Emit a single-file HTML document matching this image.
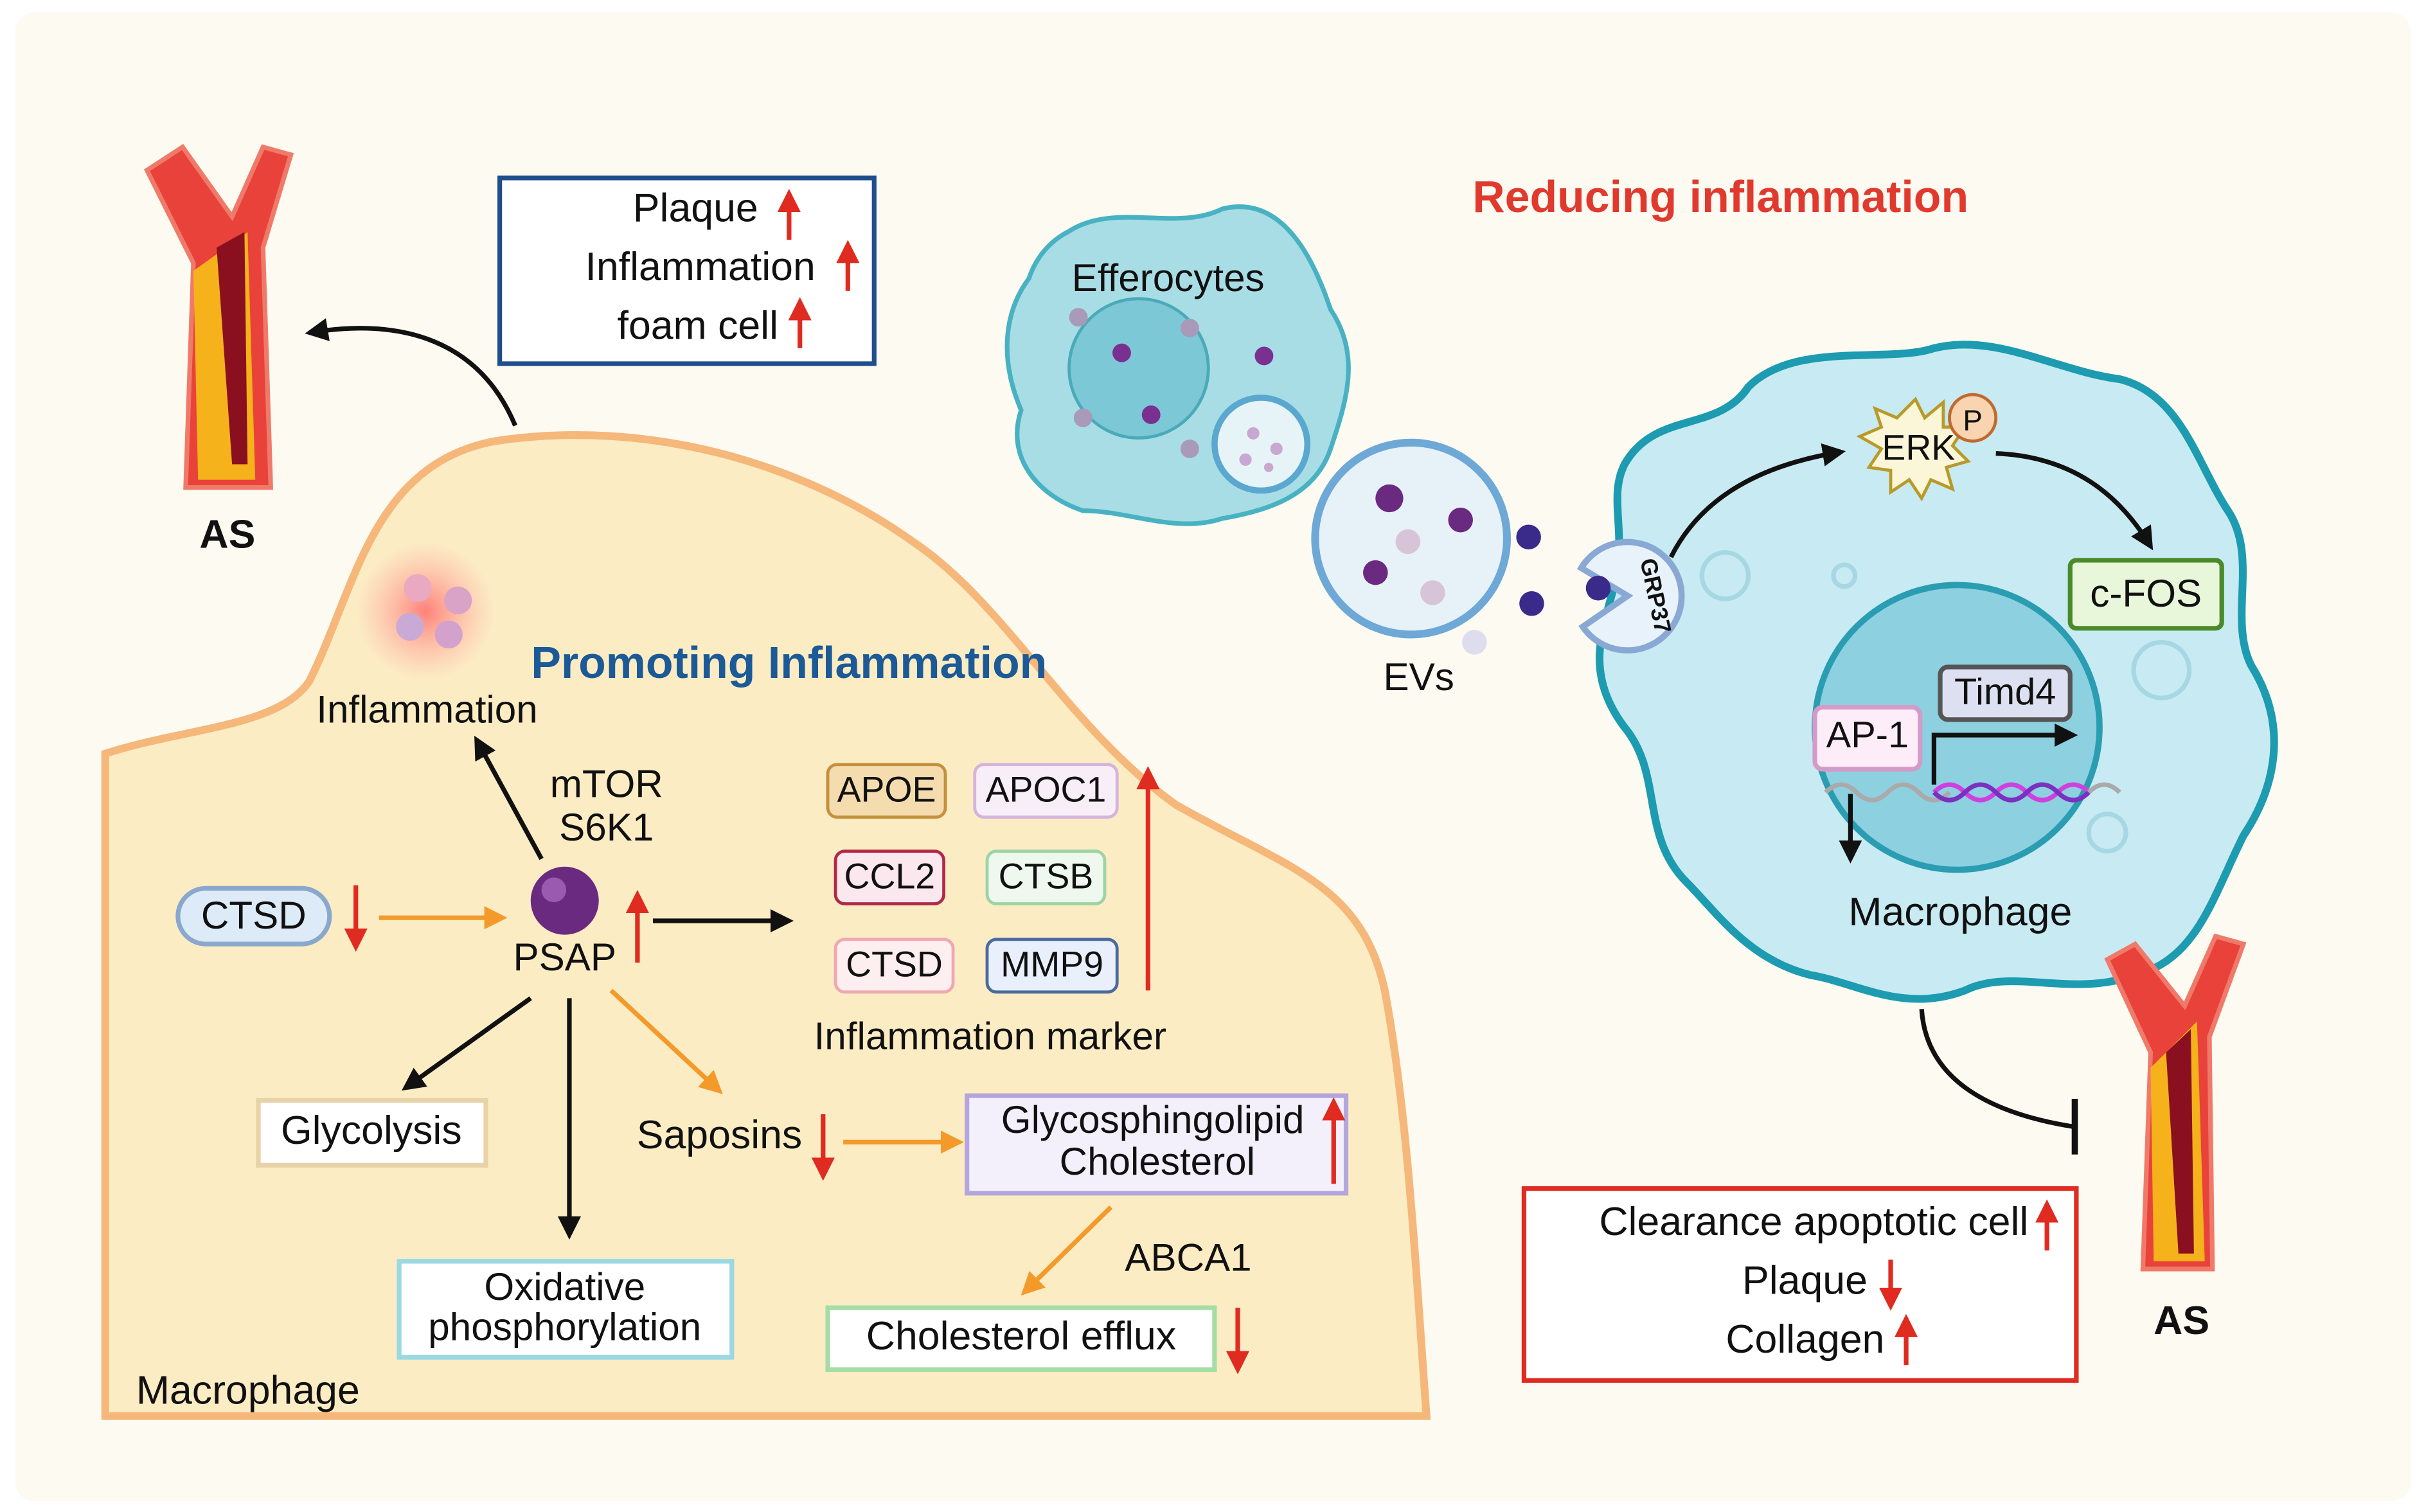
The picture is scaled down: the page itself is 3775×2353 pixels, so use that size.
<!DOCTYPE html>
<html><head><meta charset="utf-8"><style>
html,body{margin:0;padding:0;background:#fff;}
svg{display:block;}
text{font-family:"Liberation Sans",sans-serif;fill:#111;}
</style></head><body>
<svg width="3775" height="2353" viewBox="0 0 1568 977" preserveAspectRatio="none" xmlns="http://www.w3.org/2000/svg">
<defs>
<marker id="ab" viewBox="0 0 10 10" refX="8" refY="5" markerWidth="5" markerHeight="5" orient="auto"><path d="M0,0L10,5L0,10z" fill="#111"/></marker>
<marker id="ao" viewBox="0 0 10 10" refX="8" refY="5" markerWidth="5" markerHeight="5" orient="auto"><path d="M0,0L10,5L0,10z" fill="#f39a2a"/></marker>
<marker id="ar" viewBox="0 0 10 10" refX="8" refY="5" markerWidth="5" markerHeight="5" orient="auto"><path d="M0,0L10,5L0,10z" fill="#e02b20"/></marker>
<radialGradient id="glow"><stop offset="0" stop-color="#f66" stop-opacity=".8"/><stop offset="1" stop-color="#f99" stop-opacity="0"/></radialGradient>
</defs>
<rect x="10" y="8" width="1548" height="962" rx="12" fill="#fdfaf1"/>
<path d="M68,487 C120,470 180,470 200,440 C230,380 240,300 320,285 C420,270 520,300 590,350 C650,390 690,470 760,520 C830,560 880,570 895,640 C910,720 915,820 922,915 L68,915 Z" fill="#fcecc4" stroke="#f5b77a" stroke-width="5"/>
<circle cx="275" cy="395" r="45" fill="url(#glow)"/>
<circle cx="270" cy="380" r="9" fill="#e9a9c0"/><circle cx="296" cy="388" r="9" fill="#d9a3c8"/><circle cx="265" cy="405" r="9" fill="#c9a9d6"/><circle cx="290" cy="410" r="9" fill="#d3a2cc"/>
<path d="M95,110 L125,170 L120,315 L175,315 L170,160 L188,100 L170,95 L150,140 L118,95 Z" fill="#e8423a" stroke="#f07a6a" stroke-width="3"/>
<path d="M125,175 L128,310 L165,310 L160,150 Z" fill="#f5b21a"/>
<path d="M140,160 L150,300 L160,300 L158,150 Z" fill="#8a1020"/>
<text x="147" y="354" font-size="26" font-weight="bold" text-anchor="middle">AS</text>
<path d="M333,275 C310,220 260,205 200,215" fill="none" stroke="#111" stroke-width="3" marker-end="url(#ab)"/>
<rect x="323" y="115" width="242" height="120" fill="#fff" stroke="#1f4e8c" stroke-width="3"/>
<g font-size="26" text-anchor="end"><text x="490" y="143">Plaque</text><text x="527" y="181">Inflammation</text><text x="503" y="219">foam cell</text></g>
<g stroke="#e02b20" stroke-width="3" marker-end="url(#ar)"><line x1="510" y1="155" x2="510" y2="125"/><line x1="548" y1="188" x2="548" y2="158"/><line x1="517" y1="225" x2="517" y2="195"/></g>
<text x="1112" y="137" font-size="29" font-weight="bold" text-anchor="middle" style="fill:#e03a2f">Reducing inflammation</text>
<text x="510" y="438" font-size="29" font-weight="bold" text-anchor="middle" style="fill:#1b5a96">Promoting Inflammation</text>
<text x="276" y="467" font-size="25" text-anchor="middle">Inflammation</text>
<text x="392" y="515" font-size="25" text-anchor="middle">mTOR</text><text x="392" y="543" font-size="25" text-anchor="middle">S6K1</text>
<line x1="350" y1="555" x2="308" y2="478" stroke="#111" stroke-width="3" marker-end="url(#ab)"/>
<rect x="115" y="574" width="98" height="36" rx="18" fill="#dcebf7" stroke="#8aa8cc" stroke-width="3"/>
<text x="164" y="600" font-size="25" text-anchor="middle">CTSD</text>
<line x1="230" y1="572" x2="230" y2="612" stroke="#e02b20" stroke-width="3" marker-end="url(#ar)"/>
<line x1="245" y1="593" x2="325" y2="593" stroke="#f39a2a" stroke-width="3" marker-end="url(#ao)"/>
<circle cx="365" cy="582" r="22" fill="#6a2a80"/><circle cx="358" cy="575" r="8" fill="#9a5ab0"/>
<text x="365" y="627" font-size="25" text-anchor="middle">PSAP</text>
<line x1="412" y1="622" x2="412" y2="578" stroke="#e02b20" stroke-width="3" marker-end="url(#ar)"/>
<line x1="422" y1="595" x2="510" y2="595" stroke="#111" stroke-width="3" marker-end="url(#ab)"/>
<g font-size="23" text-anchor="middle">
<rect x="535" y="494" width="76" height="34" rx="6" fill="#f4dcae" stroke="#c5903c" stroke-width="2"/><text x="573" y="518">APOE</text>
<rect x="630" y="494" width="92" height="34" rx="6" fill="#f8eef8" stroke="#d4b4dc" stroke-width="2"/><text x="676" y="518">APOC1</text>
<rect x="540" y="550" width="70" height="34" rx="6" fill="#fbe7ee" stroke="#b02a48" stroke-width="2"/><text x="575" y="574">CCL2</text>
<rect x="638" y="550" width="76" height="34" rx="6" fill="#eef8ee" stroke="#9cd4a4" stroke-width="2"/><text x="676" y="574">CTSB</text>
<rect x="540" y="607" width="76" height="34" rx="6" fill="#fdeef0" stroke="#f0a8b0" stroke-width="2"/><text x="578" y="631">CTSD</text>
<rect x="638" y="607" width="84" height="34" rx="6" fill="#eaf0fb" stroke="#4a6aa0" stroke-width="2"/><text x="680" y="631">MMP9</text>
</g>
<line x1="742" y1="640" x2="742" y2="498" stroke="#e02b20" stroke-width="3" marker-end="url(#ar)"/>
<text x="640" y="678" font-size="25" text-anchor="middle">Inflammation marker</text>
<line x1="343" y1="645" x2="262" y2="703" stroke="#111" stroke-width="3" marker-end="url(#ab)"/>
<line x1="368" y1="645" x2="368" y2="798" stroke="#111" stroke-width="3" marker-end="url(#ab)"/>
<line x1="395" y1="640" x2="465" y2="705" stroke="#f39a2a" stroke-width="3" marker-end="url(#ao)"/>
<rect x="167" y="711" width="147" height="42" fill="#fff" stroke="#e8d2a8" stroke-width="3"/><text x="240" y="739" font-size="26" text-anchor="middle">Glycolysis</text>
<rect x="258" y="815" width="215" height="62" fill="#fff" stroke="#9ad8e4" stroke-width="3"/>
<text x="365" y="840" font-size="25" text-anchor="middle">Oxidative</text><text x="365" y="866" font-size="25" text-anchor="middle">phosphorylation</text>
<text x="465" y="742" font-size="26" text-anchor="middle">Saposins</text>
<line x1="532" y1="720" x2="532" y2="760" stroke="#e02b20" stroke-width="3" marker-end="url(#ar)"/>
<line x1="545" y1="738" x2="620" y2="738" stroke="#f39a2a" stroke-width="3" marker-end="url(#ao)"/>
<rect x="625" y="708" width="245" height="63" fill="#f3f0fb" stroke="#b4a6dc" stroke-width="3"/>
<text x="745" y="732" font-size="25" text-anchor="middle">Glycosphingolipid</text><text x="748" y="759" font-size="25" text-anchor="middle">Cholesterol</text>
<line x1="862" y1="765" x2="862" y2="712" stroke="#e02b20" stroke-width="3" marker-end="url(#ar)"/>
<line x1="718" y1="780" x2="662" y2="835" stroke="#f39a2a" stroke-width="3" marker-end="url(#ao)"/>
<text x="768" y="821" font-size="25" text-anchor="middle">ABCA1</text>
<rect x="535" y="845" width="250" height="40" fill="#fff" stroke="#a6dca6" stroke-width="3"/>
<text x="660" y="872" font-size="26" text-anchor="middle">Cholesterol efflux</text>
<line x1="800" y1="845" x2="800" y2="885" stroke="#e02b20" stroke-width="3" marker-end="url(#ar)"/>
<text x="88" y="907" font-size="26">Macrophage</text>
<path d="M690,150 C720,130 760,150 790,135 C830,125 850,170 860,200 C880,230 870,260 860,290 C850,320 820,330 790,335 C760,345 730,330 700,330 C670,320 650,295 660,265 C645,230 650,200 665,180 C670,165 680,155 690,150Z" fill="#a9dde5" stroke="#49b2c2" stroke-width="3"/>
<circle cx="736" cy="238" r="45" fill="#7cc8d6" stroke="#4aaab8" stroke-width="2"/>
<g fill="#7a3090"><circle cx="725" cy="228" r="6"/><circle cx="744" cy="268" r="6"/><circle cx="817" cy="230" r="6"/></g>
<g fill="#a89ab8"><circle cx="697" cy="205" r="6"/><circle cx="769" cy="212" r="6"/><circle cx="700" cy="270" r="6"/><circle cx="769" cy="290" r="6"/></g>
<circle cx="815" cy="287" r="30" fill="#e6f4f8" stroke="#5aa8d0" stroke-width="4"/>
<g fill="#c8a8d0"><circle cx="810" cy="280" r="4"/><circle cx="825" cy="290" r="4"/><circle cx="805" cy="297" r="4"/><circle cx="820" cy="302" r="3"/></g>
<text x="755" y="188" font-size="25" text-anchor="middle">Efferocytes</text>
<circle cx="912" cy="348" r="62" fill="#e6f1f8" stroke="#6ea8d6" stroke-width="5"/>
<g fill="#6a2a80"><circle cx="898" cy="322" r="9"/><circle cx="944" cy="336" r="8"/><circle cx="889" cy="370" r="8"/></g>
<g fill="#d8c4d8"><circle cx="910" cy="350" r="8"/><circle cx="926" cy="383" r="8"/></g>
<circle cx="988" cy="347" r="8" fill="#3a2a8a"/><circle cx="990" cy="390" r="8" fill="#3a2a8a"/><circle cx="953" cy="415" r="8" fill="#dde"/>
<text x="917" y="446" font-size="25" text-anchor="middle">EVs</text>
<path d="M1050,300 C1070,265 1110,280 1130,250 C1160,220 1220,235 1250,225 C1290,215 1330,240 1370,245 C1410,255 1420,300 1440,330 C1460,360 1440,400 1455,430 C1480,470 1470,510 1450,540 C1430,580 1420,620 1380,630 C1340,645 1300,625 1270,640 C1230,655 1200,635 1170,630 C1130,620 1110,590 1090,570 C1060,540 1075,500 1050,470 C1020,430 1040,400 1045,370 C1050,340 1040,320 1050,300Z" fill="#c8eaf2" stroke="#1d9bb0" stroke-width="5"/>
<g fill="none" stroke="#a6d8e4" stroke-width="3"><circle cx="1115" cy="372" r="15"/><circle cx="1397" cy="433" r="18"/><circle cx="1362" cy="538" r="12"/><circle cx="1192" cy="372" r="7"/></g>
<circle cx="1265" cy="470" r="92" fill="#8dd0e0" stroke="#2a9db2" stroke-width="4"/>
<path d="M1052,385 L1023,405 A35,35 0 1 0 1022,367 Z" fill="#e8f2fb" stroke="#8aa8d4" stroke-width="4"/>
<circle cx="1033" cy="380" r="8" fill="#3a2a8a"/>
<text transform="translate(1060,362) rotate(78)" font-size="15" font-weight="bold">GRP37</text>
<path d="M1080,360 C1100,320 1140,300 1190,292" fill="none" stroke="#111" stroke-width="3" marker-end="url(#ab)"/>
<path d="M1238,258 L1244,270 L1256,260 L1256,276 L1270,276 L1262,288 L1272,298 L1258,302 L1262,316 L1248,310 L1242,322 L1234,310 L1222,318 L1222,304 L1208,302 L1216,290 L1202,282 L1216,276 L1212,264 L1226,270 Z" fill="#fbf6d8" stroke="#b89a2a" stroke-width="2"/>
<text x="1240" y="297" font-size="23" text-anchor="middle">ERK</text>
<circle cx="1275" cy="270" r="15" fill="#f8d4b0" stroke="#c06a30" stroke-width="2"/><text x="1275" y="278" font-size="19" text-anchor="middle">P</text>
<path d="M1290,293 C1340,295 1370,320 1390,353" fill="none" stroke="#111" stroke-width="3" marker-end="url(#ab)"/>
<rect x="1338" y="362" width="98" height="44" rx="4" fill="#e8f6da" stroke="#4a8a2a" stroke-width="3"/>
<text x="1387" y="392" font-size="25" text-anchor="middle">c-FOS</text>
<rect x="1254" y="431" width="84" height="34" rx="5" fill="#dde0f0" stroke="#555" stroke-width="3"/><text x="1296" y="455" font-size="24" text-anchor="middle">Timd4</text>
<rect x="1173" y="457" width="68" height="40" rx="5" fill="#fcedf8" stroke="#d49ac8" stroke-width="3"/><text x="1207" y="483" font-size="24" text-anchor="middle">AP-1</text>
<path d="M1250,507 L1250,475 L1340,475" fill="none" stroke="#111" stroke-width="3" marker-end="url(#ab)"/>
<path d="M1180,512 q10,-10 20,0 t20,0 t20,0 t20,0" fill="none" stroke="#aaa" stroke-width="3"/>
<path d="M1250,512 q10,-10 20,0 t20,0 t20,0 t20,0 t20,0" fill="none" stroke="#d040e0" stroke-width="3"/>
<path d="M1250,512 q10,10 20,0 t20,0 t20,0 t20,0 t20,0" fill="none" stroke="#7a30c0" stroke-width="3"/>
<path d="M1350,512 q10,-10 20,0" fill="none" stroke="#aaa" stroke-width="3"/>
<line x1="1196" y1="513" x2="1196" y2="555" stroke="#111" stroke-width="3" marker-end="url(#ab)"/>
<text x="1267" y="598" font-size="26" text-anchor="middle">Macrophage</text>
<path d="M1242,652 C1245,700 1290,720 1340,728" fill="none" stroke="#111" stroke-width="3"/>
<line x1="1341" y1="710" x2="1341" y2="746" stroke="#111" stroke-width="4"/>
<path d="M1362,620 L1390,680 L1385,820 L1430,820 L1428,670 L1450,610 L1432,605 L1412,650 L1380,610 Z" fill="#e8423a" stroke="#f07a6a" stroke-width="3"/>
<path d="M1390,690 L1392,815 L1425,815 L1420,660 Z" fill="#f5b21a"/>
<path d="M1400,680 L1408,810 L1418,810 L1416,665 Z" fill="#8a1020"/>
<text x="1410" y="862" font-size="26" font-weight="bold" text-anchor="middle">AS</text>
<rect x="985" y="768" width="357" height="124" fill="#fff" stroke="#e02b20" stroke-width="3"/>
<g font-size="26" text-anchor="end"><text x="1311" y="798">Clearance apoptotic cell</text><text x="1207" y="836">Plaque</text><text x="1218" y="874">Collagen</text></g>
<g stroke="#e02b20" stroke-width="3" marker-end="url(#ar)"><line x1="1323" y1="808" x2="1323" y2="778"/><line x1="1222" y1="814" x2="1222" y2="844"/><line x1="1232" y1="882" x2="1232" y2="852"/></g>
</svg>
</body></html>
